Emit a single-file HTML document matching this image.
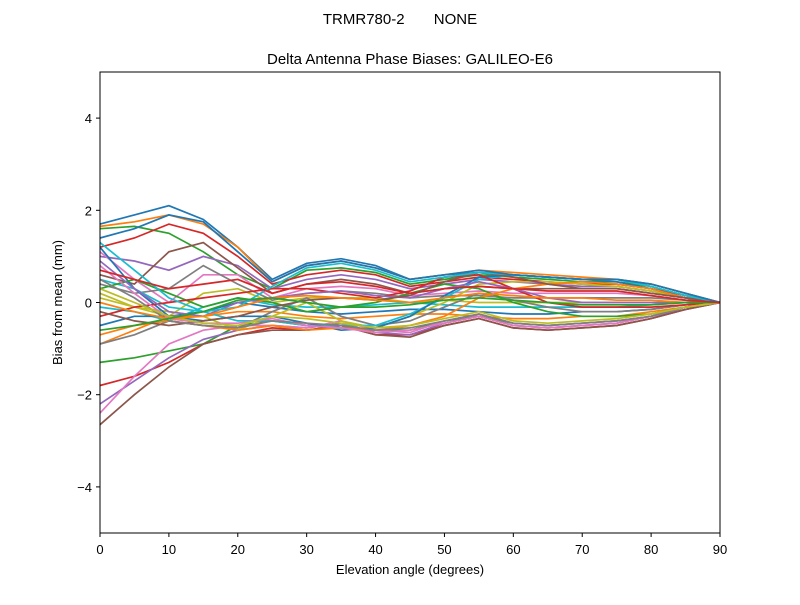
<!DOCTYPE html>
<html><head><meta charset="utf-8"><style>
body{margin:0;background:#fff;}
svg text{font-family:"Liberation Sans","DejaVu Sans",sans-serif;fill:#000;}
</style></head><body>
<svg id="chart" width="800" height="600" xmlns="http://www.w3.org/2000/svg">
<rect width="800" height="600" fill="#fff"/>
<text x="400" y="24" font-size="15" text-anchor="middle" xml:space="preserve">TRMR780-2       NONE</text>
<text x="410" y="64" font-size="15" text-anchor="middle">Delta Antenna Phase Biases: GALILEO-E6</text>
<g id="lines"></g>
<rect x="100" y="72" width="620" height="461" fill="none" stroke="#000" stroke-width="1"/>
<g id="axes"></g>
<text x="410" y="574" font-size="13" text-anchor="middle">Elevation angle (degrees)</text>
<text transform="translate(62,302.5) rotate(-90)" font-size="13" text-anchor="middle">Bias from mean (mm)</text>
</svg>
<script>
const elevations=[0,5,10,15,20,25,30,35,40,45,50,55,60,65,70,75,80,85,90];
const xTicks=[0,10,20,30,40,50,60,70,80,90];
const yTicks=[-4,-2,0,2,4];
const yTickLabels=["\u22124","\u22122","0","2","4"];
const s1=[1.7,1.9,2.1,1.8,1.2,0.5,0.85,0.95,0.8,0.5,0.6,0.65,0.6,0.55,0.5,0.5,0.4,0.2,0];
const s2=[1.65,1.75,1.9,1.7,1.2,0.45,0.8,0.9,0.75,0.5,0.6,0.7,0.65,0.6,0.55,0.5,0.4,0.2,0];
const s3=[1.6,1.65,1.5,1.1,0.6,0.3,0.7,0.75,0.65,0.4,0.5,0.6,0.55,0.5,0.45,0.45,0.35,0.15,0];
const s4=[1.2,1.4,1.7,1.5,1.0,0.4,0.6,0.7,0.6,0.35,0.45,0.55,0.5,0.45,0.4,0.4,0.3,0.15,0];
const s5=[1.0,0.9,0.7,1.0,0.8,0.3,0.5,0.6,0.5,0.3,0.4,0.5,0.45,0.4,0.35,0.35,0.25,0.1,0];
const s6=[0.6,0.4,1.1,1.3,0.75,0.2,0.4,0.5,0.4,0.2,0.3,0.35,0.3,0.3,0.3,0.3,0.2,0.1,0];
const s7=[1.1,0.5,0.0,0.6,0.6,0.1,0.3,0.35,0.3,0.15,0.2,0.25,0.2,0.2,0.2,0.2,0.15,0.05,0];
const s8=[0.4,0.2,0.3,0.8,0.4,0.05,0.2,0.25,0.2,0.1,0.15,0.15,0.1,0.1,0.1,0.1,0.1,0.05,0];
const s9=[0.2,-0.1,-0.3,0.2,0.3,0.0,0.1,0.1,0.1,0.0,0.05,0.0,0.0,0.0,0.0,0.0,0.0,0.0,0];
const s10=[-0.1,-0.2,-0.4,-0.1,0.1,-0.05,-0.1,-0.1,-0.05,0.0,-0.05,-0.1,-0.1,-0.1,-0.1,-0.1,-0.05,0,0];
const s11=[-0.5,-0.3,-0.3,-0.2,0.0,-0.1,-0.2,-0.25,-0.2,-0.15,-0.15,-0.2,-0.25,-0.25,-0.2,-0.2,-0.15,-0.05,0];
const s12=[-0.9,-0.6,-0.3,-0.3,-0.2,-0.2,-0.3,-0.35,-0.3,-0.25,-0.25,-0.3,-0.35,-0.35,-0.3,-0.3,-0.2,-0.1,0];
const s13=[-1.3,-1.2,-1.05,-0.9,-0.5,-0.4,-0.5,-0.55,-0.6,-0.6,-0.4,-0.3,-0.45,-0.5,-0.45,-0.4,-0.3,-0.1,0];
const s14=[-1.8,-1.6,-1.3,-0.9,-0.7,-0.55,-0.6,-0.5,-0.7,-0.7,-0.5,-0.35,-0.55,-0.6,-0.55,-0.5,-0.35,-0.15,0];
const s15=[-2.2,-1.7,-1.2,-0.8,-0.6,-0.5,-0.55,-0.45,-0.65,-0.7,-0.45,-0.3,-0.5,-0.55,-0.5,-0.45,-0.3,-0.15,0];
const s16=[-2.65,-2.0,-1.4,-0.9,-0.7,-0.6,-0.6,-0.5,-0.7,-0.75,-0.5,-0.35,-0.55,-0.6,-0.55,-0.5,-0.35,-0.15,0];
const s17=[-2.4,-1.6,-0.9,-0.6,-0.5,-0.5,-0.55,-0.4,-0.6,-0.65,-0.4,-0.25,-0.45,-0.5,-0.45,-0.4,-0.3,-0.1,0];
const s18=[-0.9,-0.7,-0.4,-0.5,-0.55,-0.2,0.1,-0.3,-0.5,-0.4,-0.1,0.2,0.05,-0.1,-0.2,-0.2,-0.15,-0.05,0];
const s19=[0.1,-0.1,-0.2,-0.3,-0.6,-0.3,0.0,-0.4,-0.55,-0.3,0.0,0.4,0.45,0.45,0.4,0.35,0.25,0.1,0];
const s20=[0.5,0.3,-0.1,-0.2,-0.4,-0.4,-0.5,-0.5,-0.5,-0.25,0.1,0.5,0.6,0.55,0.5,0.5,0.35,0.15,0];
const s21=[1.2,0.3,-0.3,-0.4,-0.3,-0.3,-0.45,-0.6,-0.55,-0.3,0.15,0.55,0.6,0.55,0.5,0.45,0.3,0.1,0];
const s22=[-0.7,-0.5,-0.4,-0.5,-0.6,-0.5,-0.6,-0.55,-0.6,-0.5,-0.3,0.1,0.3,0.4,0.45,0.4,0.3,0.1,0];
const s23=[0.3,0.5,0.2,-0.1,0.1,0.0,-0.2,-0.1,0.0,0.2,0.4,0.3,0.0,-0.2,-0.3,-0.3,-0.25,-0.1,0];
const s24=[-0.3,-0.1,0.0,0.1,0.2,0.3,0.3,0.2,0.1,0.25,0.55,0.6,0.3,0.0,-0.1,-0.1,-0.1,-0.05,0];
const s25=[0.9,0.3,-0.2,-0.3,0.0,0.1,0.2,0.25,0.15,0.1,0.3,0.45,0.3,0.1,0.0,0.0,0.0,0.0,0];
const s26=[-0.2,-0.4,-0.5,-0.4,-0.3,-0.1,0.05,0.1,0.05,0.15,0.45,0.65,0.55,0.4,0.3,0.3,0.2,0.1,0];
const s27=[0.8,0.2,-0.35,-0.45,-0.45,-0.35,-0.5,-0.55,-0.65,-0.6,-0.45,-0.3,-0.5,-0.55,-0.5,-0.45,-0.3,-0.1,0];
const s28=[0.5,0.1,-0.4,-0.5,-0.55,-0.4,-0.45,-0.5,-0.6,-0.55,-0.4,-0.25,-0.45,-0.5,-0.45,-0.4,-0.3,-0.1,0];
const s29=[0.3,0.0,-0.3,-0.45,-0.5,-0.3,-0.35,-0.45,-0.55,-0.5,-0.35,-0.2,-0.4,-0.45,-0.4,-0.35,-0.25,-0.1,0];
const s30=[1.3,0.7,0.1,-0.2,-0.1,0.35,0.75,0.85,0.7,0.45,0.55,0.65,0.6,0.55,0.5,0.5,0.35,0.15,0];
const s31=[1.4,1.6,1.9,1.75,1.1,0.45,0.8,0.9,0.75,0.5,0.6,0.7,0.6,0.55,0.5,0.5,0.4,0.2,0];
const s32=[0.0,-0.2,-0.35,-0.3,-0.1,0.1,0.15,0.1,0.05,0.0,0.1,0.2,0.15,0.1,0.1,0.05,0.05,0.0,0];
const s33=[-0.6,-0.5,-0.35,-0.2,0.05,0.1,0.0,-0.1,-0.1,-0.05,0.05,0.1,0.05,0.0,-0.05,-0.05,-0.05,0,0];
const s34=[0.7,0.5,0.3,0.4,0.5,0.2,0.4,0.45,0.35,0.2,0.3,0.35,0.3,0.25,0.25,0.25,0.15,0.05,0];
const series=[s1,s2,s3,s4,s5,s6,s7,s8,s9,s10,s11,s12,s13,s14,s15,s16,s17,s18,s19,s20,s21,s22,s23,s24,s25,s26,s27,s28,s29,s30,s31,s32,s33,s34];
const colors=["#1f77b4","#ff7f0e","#2ca02c","#d62728","#9467bd","#8c564b","#e377c2","#7f7f7f","#bcbd22","#17becf"];
const X0=100,X1=720,Y0=533,Y1=72;
function xs(v){return X0+(v-0)/(90-0)*(X1-X0);}
function ys(v){return Y0-(v+5)/10*(Y0-Y1);}
const NS="http://www.w3.org/2000/svg";
const lg=document.getElementById('lines');
series.forEach((s,i)=>{
  const p=document.createElementNS(NS,'polyline');
  p.setAttribute('points',s.map((v,j)=>xs(elevations[j]).toFixed(1)+','+ys(v).toFixed(1)).join(' '));
  p.setAttribute('fill','none');
  p.setAttribute('stroke',colors[i%colors.length]);
  p.setAttribute('stroke-width','1.7');
  
  
  lg.appendChild(p);
});
const ax=document.getElementById('axes');
xTicks.forEach(t=>{
  const l=document.createElementNS(NS,'line');
  l.setAttribute('x1',xs(t));l.setAttribute('x2',xs(t));l.setAttribute('y1',Y0);l.setAttribute('y2',Y0+4);
  l.setAttribute('stroke','#000');
  
  
  ax.appendChild(l);
  const tx=document.createElementNS(NS,'text');
  tx.setAttribute('x',xs(t));tx.setAttribute('y',Y0+21);tx.setAttribute('font-size','13');tx.setAttribute('text-anchor','middle');
  tx.textContent=String(t);
  
  
  ax.appendChild(tx);
});
yTicks.forEach((t,i)=>{
  const l=document.createElementNS(NS,'line');
  l.setAttribute('x1',X0-4);l.setAttribute('x2',X0);l.setAttribute('y1',ys(t));l.setAttribute('y2',ys(t));
  l.setAttribute('stroke','#000');
  
  
  ax.appendChild(l);
  const tx=document.createElementNS(NS,'text');
  tx.setAttribute('x',X0-8);tx.setAttribute('y',ys(t)+5);tx.setAttribute('font-size','13');tx.setAttribute('text-anchor','end');
  tx.textContent=yTickLabels[i];
  
  
  ax.appendChild(tx);
});
</script>
</body></html>
